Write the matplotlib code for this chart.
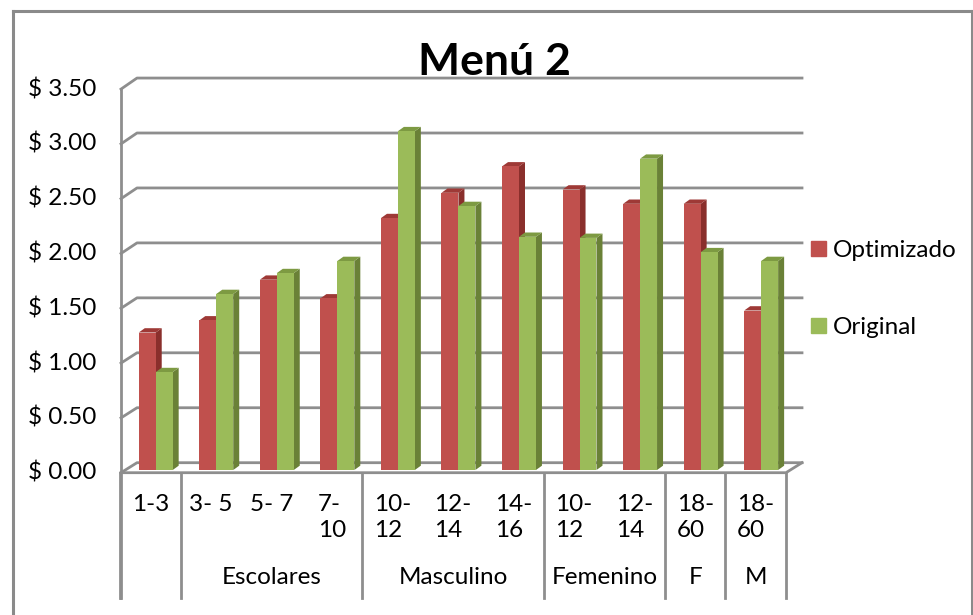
import numpy as np
import matplotlib
matplotlib.use("Agg")
import matplotlib.pyplot as plt
from matplotlib.patches import Polygon, Patch
from matplotlib.lines import Line2D

plt.rcParams['font.family'] = ['Lato', 'DejaVu Sans']

# -------------------- Data --------------------
ages = ["1-3", "3- 5", "5- 7", "7-\n10", "10-\n12", "12-\n14", "14-\n16",
        "10-\n12", "12-\n14", "18-\n60", "18-\n60"]
groups = ["", "Escolares", "Masculino", "Femenino", "F", "M"]
group_sizes = [1, 3, 3, 2, 1, 1]

optimizado = [1.25, 1.36, 1.73, 1.56, 2.29, 2.52, 2.76, 2.55, 2.42, 2.42, 1.45]
original = [0.89, 1.60, 1.79, 1.90, 3.08, 2.40, 2.12, 2.11, 2.83, 1.98, 1.90]

yticks = np.arange(0, 3.51, 0.5)

# -------------------- Style --------------------
W, H = 973, 615
RED, RED_SIDE, RED_TOP = "#C0504D", "#8A2F2C", "#9E3936"
GREEN, GREEN_SIDE, GREEN_TOP = "#9BBB59", "#6A8137", "#7D9A42"
GRID = "#8E8E8E"
FS = 17.5

n = len(ages)
px_x = 666 / n      # pixels per category
px_y = 110.0        # pixels per unit

fig = plt.figure(figsize=(W / 100, H / 100), dpi=100)
ax = fig.add_axes([120 / W, (H - 470) / H, 666 / W, 385 / H])
ax.set_xlim(-0.5, n - 0.5)
ax.set_ylim(0, 3.5)
ax.axis("off")


def to_data(px, py):
    # figure pixel (from top-left) -> data coords
    return (px - 120) / px_x - 0.5, (470 - py) / px_y


def line_px(points, **kw):
    xs, ys = zip(*[to_data(*p) for p in points])
    ax.add_line(Line2D(xs, ys, clip_on=False, **kw))


# outer frame
for (x0, y0), (x1, y1) in [((13, 11), (13, 615)), ((13, 11), (972, 11)), ((972, 11), (972, 615))]:
    fig.add_artist(Line2D([x0 / W, x1 / W], [1 - y0 / H, 1 - y1 / H],
                          transform=fig.transFigure, color="#8A8A8A", lw=2.2))

# walls: grid on the back wall plus diagonals on the side wall
for v in yticks:
    yf = 472.7 - v * 109.6
    yb = 462.7 - v * 109.9
    line_px([(121, yf), (137, yb), (802, yb)], color=GRID, lw=2, zorder=1)
    ax.text(*to_data(96, yf), f"$ {v:.2f}", ha="right", va="center", fontsize=FS)

# floor edges and left edge
line_px([(121, 472.7), (786, 472.7), (802, 462.7)], color=GRID, lw=2, zorder=1)
line_px([(121, 89), (121, 598)], color=GRID, lw=2, zorder=1)

# -------------------- Bars --------------------
x = np.arange(n)
off, w = 0.09, 0.28
ddx, ddy = 6 / px_x, 4.3 / px_y


def bars3d(left, vals, front, side, top, z):
    ax.bar(left, vals, width=w, align="edge", color=front, lw=0, zorder=z + 0.1)
    for l, v in zip(left, vals):
        r = l + w
        ax.add_patch(Polygon([(r, 0), (r + ddx, ddy), (r + ddx, v + ddy), (r, v)],
                             closed=True, color=side, lw=0, zorder=z))
        ax.add_patch(Polygon([(l, v), (l + ddx, v + ddy), (r + ddx, v + ddy), (r, v)],
                             closed=True, color=top, lw=0, zorder=z))


bars3d(x + off - w, optimizado, RED, RED_SIDE, RED_TOP, 2)
bars3d(x + off, original, GREEN, GREEN_SIDE, GREEN_TOP, 3)

# -------------------- Category axis --------------------
for i, lab in enumerate(ages):
    ax.text(i, to_data(0, 494)[1], lab, ha="center", va="top",
            multialignment="left", fontsize=FS, linespacing=1.3)

edges = np.concatenate([[0], np.cumsum(group_sizes)]) - 0.5
for e in edges:
    ex = (e + 0.5) * px_x + 120
    line_px([(ex, 472.7), (ex, 598)], color=GRID, lw=2, zorder=1)
for g, a, b in zip(groups, edges[:-1], edges[1:]):
    ax.text((a + b) / 2, to_data(0, 578)[1], g, ha="center", va="center", fontsize=FS)

# -------------------- Title & legend --------------------
fig.text(494 / W, 1 - 62 / H, "Menú 2", ha="center", va="center",
         fontsize=32, fontweight="bold")

handles = [Patch(color=RED, label="Optimizado"), Patch(color=GREEN, label="Original")]
fig.legend(handles=handles, loc="center left", bbox_to_anchor=(811 / W, 1 - 289 / H),
           frameon=False, fontsize=FS, handlelength=0.6, handleheight=0.6,
           handletextpad=0.3, labelspacing=2.32, borderpad=0, borderaxespad=0)

fig.savefig("out.png", dpi=100)
